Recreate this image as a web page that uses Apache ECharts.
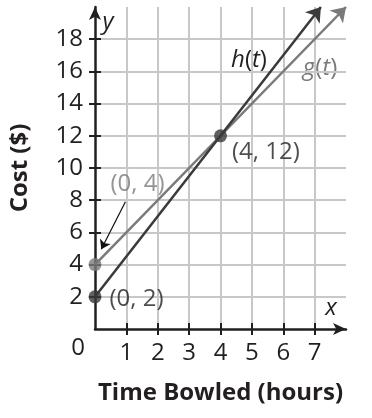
<!DOCTYPE html>
<html><head><meta charset="utf-8">
<script src="https://cdn.jsdelivr.net/npm/echarts@6/dist/echarts.min.js"></script>
<style>html,body{margin:0;padding:0;background:#fff}#c{width:372px;height:418px}</style>
</head><body><div id="c"></div>
<script>
const xTicks = [1, 2, 3, 4, 5, 6, 7];
const yTicks = [2, 4, 6, 8, 10, 12, 14, 16, 18];
const hLine = [[0, 2], [7.2, 20]];
const gLine = [[0, 4], [8, 20]];
const pointValues = [[0, 2], [0, 4], [4, 12]];
const pointLabels = ['(0, 2)', '(0, 4)', '(4, 12)'];
const pointerArrow = [[0.97, 7.9], [0.2, 4.95]];
const xTitle = 'Time Bowled (hours)';
const yTitle = 'Cost ($)';

const FONT = '"Open Sans", "Noto Sans", sans-serif';
const DARK = '#3a3a3a', GRAY = '#7a7a7a', AX = '#231f20', GRID = '#c8c8c8';
const FS = 24;

const chart = echarts.init(document.getElementById('c'));
const baseX = {type: 'value', min: 0, max: 8, interval: 1, position: 'bottom'};
const baseY = {type: 'value', min: 0, max: 20, interval: 2, position: 'left'};
chart.setOption({
  animation: false,
  grid: {left: 90.7, right: 26, top: 7, bottom: 89},
  xAxis: [
    Object.assign({}, baseX, {
      name: xTitle, nameLocation: 'middle', nameGap: 52,
      nameTextStyle: {fontFamily: FONT, fontWeight: 'bold', fontSize: 24, color: '#231f20'},
      axisLine: {show: true, lineStyle: {color: AX, width: 2.5}, symbol: ['none', 'arrow'], symbolSize: [9, 13]},
      axisTick: {show: true, inside: false, length: 6, customValues: xTicks, lineStyle: {color: AX, width: 2}},
      axisLabel: {customValues: xTicks, margin: 12, fontFamily: FONT, fontSize: FS, color: '#231f20'},
      splitLine: {show: true, lineStyle: {color: GRID, width: 2}}
    }),
    Object.assign({}, baseX, {
      axisLine: {show: false},
      axisTick: {show: true, inside: true, length: 6, customValues: xTicks, lineStyle: {color: AX, width: 2}},
      axisLabel: {show: false}, splitLine: {show: false}
    })
  ],
  yAxis: [
    Object.assign({}, baseY, {
      name: yTitle, nameLocation: 'middle', nameGap: 63, nameRotate: 90,
      nameTextStyle: {fontFamily: FONT, fontWeight: 'bold', fontSize: 24, color: '#231f20'},
      axisLine: {show: true, lineStyle: {color: AX, width: 2.5}, symbol: ['none', 'arrow'], symbolSize: [9, 13]},
      axisTick: {show: true, inside: false, length: 6, customValues: yTicks, lineStyle: {color: AX, width: 2}},
      axisLabel: {customValues: yTicks, margin: 12, fontFamily: FONT, fontSize: FS, color: '#231f20'},
      splitLine: {show: true, lineStyle: {color: GRID, width: 2}}
    }),
    Object.assign({}, baseY, {
      axisLine: {show: false},
      axisTick: {show: true, inside: true, length: 6, customValues: yTicks, lineStyle: {color: AX, width: 2}},
      axisLabel: {show: false}, splitLine: {show: false}
    })
  ],
  series: [
    {type: 'lines', coordinateSystem: 'cartesian2d', xAxisIndex: 0, yAxisIndex: 0, z: 3,
     data: [{coords: gLine}], symbol: ['none', 'arrow'], symbolSize: [10, 14],
     lineStyle: {color: GRAY, width: 2.5, opacity: 1}},
    {type: 'lines', coordinateSystem: 'cartesian2d', xAxisIndex: 0, yAxisIndex: 0, z: 3,
     data: [{coords: hLine}], symbol: ['none', 'arrow'], symbolSize: [10, 14],
     lineStyle: {color: DARK, width: 2.5, opacity: 1}},
    {type: 'lines', coordinateSystem: 'cartesian2d', xAxisIndex: 0, yAxisIndex: 0, z: 3,
     data: [{coords: pointerArrow}], symbol: ['none', 'arrow'], symbolSize: [6, 9],
     lineStyle: {color: '#111', width: 1.2, opacity: 1}},
    {type: 'scatter', xAxisIndex: 0, yAxisIndex: 0, z: 5, symbolSize: 13,
     data: pointValues.map((v, i) => ({
       value: v,
       itemStyle: {color: i === 1 ? GRAY : DARK},
       label: {
         show: true, formatter: pointLabels[i], position: 'right',
         distance: 8, fontFamily: FONT, fontSize: FS,
         color: i === 1 ? GRAY : '#231f20',
         offset: i === 0 ? [0, 2] : (i === 1 ? [1, -80] : [-3, 16])
       }
     }))}
  ],
  graphic: [
    {type: 'text', x: 249, y: 60, style: {text: '{i|h}({i|t})', font: FS + 'px ' + FONT, fill: '#231f20', align: 'center', verticalAlign: 'middle',
      rich: {i: {fontStyle: 'italic', fontSize: FS, fontFamily: 'Open Sans', fill: '#231f20'}}}},
    {type: 'text', x: 320, y: 68, style: {text: '{i|g}({i|t})', font: FS + 'px ' + FONT, fill: GRAY, align: 'center', verticalAlign: 'middle',
      rich: {i: {fontStyle: 'italic', fontSize: FS, fontFamily: 'Open Sans', fill: GRAY}}}},
    {type: 'text', x: 108, y: 22, style: {text: 'y', font: 'italic ' + FS + 'px ' + FONT, fill: '#231f20', align: 'center', verticalAlign: 'middle'}},
    {type: 'text', x: 331, y: 308, style: {text: 'x', font: 'italic ' + FS + 'px ' + FONT, fill: '#231f20', align: 'center', verticalAlign: 'middle'}},
    {type: 'text', x: 78, y: 348, style: {text: '0', font: FS + 'px ' + FONT, fill: '#231f20', align: 'center', verticalAlign: 'middle'}}
  ]
});
</script>
</body></html>
